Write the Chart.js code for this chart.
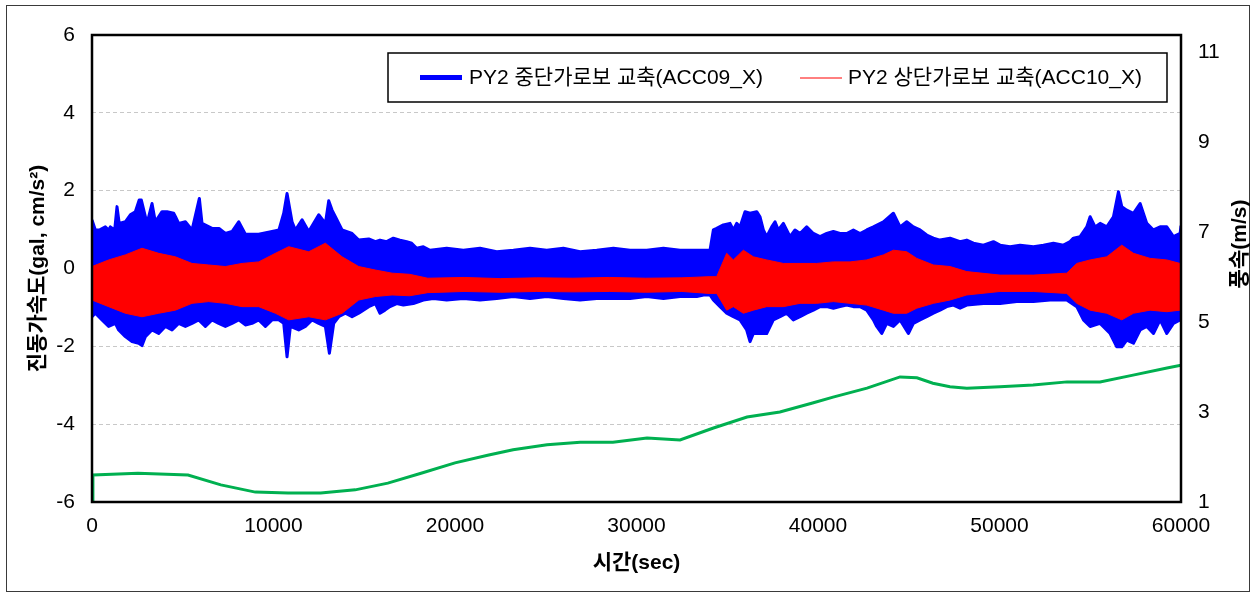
<!DOCTYPE html>
<html>
<head>
<meta charset="utf-8">
<script src="https://cdn.jsdelivr.net/npm/chart.js@4.4.1/dist/chart.umd.min.js"></script>
<style>
  html, body { margin: 0; padding: 0; background: #fff; }
  #wrap { position: relative; width: 1254px; height: 594px; }
</style>
</head>
<body>
<div id="wrap"><canvas id="chart" width="1254" height="594"></canvas></div>
<script>
// ACC09_X (middle girder): upper peak envelope, time (sec) and acceleration (gal)
const blueHighTime = [0,184,400,735,918,1010,1250,1378,1500,1837,2112,2388,2600,2719,3031,3307,3490,3858,4133,4500,4600,4776,5144,5511,5915,6062,6613,7000,7348,7715,8083,8450,9185,9920,10300,10563,10746,11022,11206,11573,11941,12492,12859,13043,13226,13410,13777,14329,14696,15248,15615,15868,16235,16603,16970,17338,17613,17889,18256,18624,19542,20461,21379,22298,23216,24135,25053,25972,26890,27809,28727,29646,30564,31483,32401,33320,34050,34234,34418,34785,35152,35336,35520,35703,35979,36255,36622,36806,36989,37173,37449,37632,37816,38092,38459,38734,39010,39377,39745,40112,40480,40847,41214,41582,41949,42317,42684,43051,43603,44154,44521,44888,45256,45623,45991,46358,46725,47277,47828,48195,48562,49114,49665,50032,50583,51134,51869,52420,52971,53522,53890,54073,54441,54808,54992,55267,55543,55910,56278,56553,56737,57012,57380,57747,58115,58482,58850,59217,59584,59952,60000];
const blueHigh = [1.25,0.99,0.99,1.07,0.99,1.07,0.99,1.59,1.16,1.20,1.38,1.46,1.76,1.76,1.16,1.67,1.20,1.46,1.46,1.42,1.33,1.16,1.20,0.99,1.80,1.16,1.03,1.03,0.90,0.95,1.20,0.88,0.88,0.95,0.99,1.42,1.93,1.20,0.99,1.25,0.95,1.38,1.16,1.74,1.50,1.33,0.99,0.90,0.73,0.76,0.69,0.73,0.69,0.78,0.73,0.69,0.65,0.52,0.56,0.47,0.52,0.47,0.52,0.43,0.47,0.52,0.47,0.52,0.43,0.47,0.52,0.47,0.47,0.52,0.47,0.47,0.47,0.99,1.03,1.12,1.16,0.99,1.16,1.07,1.46,1.42,1.46,1.33,0.99,0.82,1.07,1.20,0.99,1.16,0.82,0.99,0.90,1.07,0.90,0.82,0.90,0.95,0.90,0.90,0.99,0.90,0.99,1.07,1.20,1.42,1.07,1.20,1.07,0.99,0.86,0.78,0.73,0.78,0.69,0.73,0.65,0.60,0.69,0.60,0.56,0.60,0.56,0.60,0.65,0.60,0.69,0.78,0.82,1.07,1.33,1.07,1.16,1.07,1.33,1.97,1.59,1.50,1.42,1.67,1.16,0.99,1.07,1.07,0.82,0.90,1.10];

// ACC09_X (middle girder): lower peak envelope
const blueLowTime = [0,184,551,918,1286,1470,1837,2204,2572,2756,2939,3307,3674,4041,4409,4776,5144,5511,5878,6246,6613,6981,7348,7715,8083,8450,8818,9185,9553,9920,10287,10563,10746,10930,11389,11757,12124,12492,12859,13080,13318,13594,13961,14329,14696,15248,15615,15868,16143,16419,16787,17154,17705,18256,18807,19542,20461,21379,22298,23216,24135,25053,25972,26890,27809,28727,29646,30564,31483,32401,33320,33700,34050,34234,34602,34969,35336,35703,36071,36255,36438,36806,37173,37540,37908,38275,38642,39010,39377,39745,40112,40480,40847,41214,41582,41949,42317,42684,43051,43235,43511,43786,44154,44521,44980,45256,45623,45991,46358,46725,47093,47460,47828,48195,49114,50032,50951,51869,52788,53706,54257,54625,54992,55543,56094,56461,56737,57012,57380,57747,58115,58482,58850,59217,59584,59952,60000];
const blueLow = [-1.24,-1.15,-1.32,-1.49,-1.41,-1.58,-1.75,-1.88,-1.92,-1.98,-1.75,-1.58,-1.67,-1.49,-1.58,-1.41,-1.49,-1.41,-1.32,-1.49,-1.32,-1.41,-1.49,-1.41,-1.32,-1.45,-1.41,-1.32,-1.49,-1.32,-1.32,-1.41,-2.27,-1.49,-1.58,-1.49,-1.32,-1.41,-1.49,-2.18,-1.41,-1.24,-1.15,-1.24,-1.15,-0.98,-0.90,-1.15,-1.07,-0.98,-0.90,-0.94,-0.90,-0.81,-0.77,-0.81,-0.77,-0.81,-0.77,-0.72,-0.77,-0.72,-0.77,-0.81,-0.77,-0.77,-0.77,-0.72,-0.77,-0.72,-0.72,-0.68,-0.68,-0.81,-0.98,-1.15,-1.24,-1.32,-1.58,-1.88,-1.67,-1.67,-1.67,-1.32,-1.24,-1.15,-1.32,-1.24,-1.15,-1.07,-0.98,-0.98,-1.02,-0.98,-0.94,-0.98,-0.98,-1.07,-1.32,-1.49,-1.67,-1.41,-1.49,-1.32,-1.67,-1.41,-1.32,-1.24,-1.15,-1.07,-0.98,-0.94,-1.02,-0.94,-0.90,-0.90,-0.85,-0.85,-0.81,-0.81,-0.98,-1.32,-1.49,-1.41,-1.67,-2.01,-2.01,-1.84,-1.92,-1.58,-1.49,-1.67,-1.32,-1.67,-1.41,-1.32,-1.32];

// ACC10_X (upper girder): envelope, time (sec), upper and lower peaks (gal)
const redTime = [0,918,1837,2756,3674,4593,5511,6430,7348,8267,9185,10104,10838,11941,12859,13778,14696,15615,16533,17500,18500,20500,22500,24500,26500,28500,30500,32500,34000,34418,34969,35336,35887,36438,37173,38092,39010,39929,40847,41766,42684,43603,44154,44888,45440,46358,47277,48195,50032,51869,53706,54257,54992,55910,56737,57380,58298,59217,59952,60000];
const redHigh = [0.05,0.22,0.35,0.52,0.39,0.30,0.13,0.09,0.05,0.13,0.17,0.39,0.56,0.43,0.65,0.30,0.05,-0.04,-0.12,-0.15,-0.25,-0.23,-0.26,-0.24,-0.25,-0.23,-0.25,-0.24,-0.21,-0.21,0.39,0.22,0.47,0.30,0.22,0.13,0.13,0.13,0.17,0.17,0.22,0.35,0.47,0.43,0.26,0.09,0.05,-0.08,-0.17,-0.17,-0.12,0.13,0.22,0.30,0.60,0.39,0.26,0.22,0.13,0.13];
const redLow = [-0.81,-0.98,-1.15,-1.24,-1.15,-1.07,-0.895,-0.85,-0.895,-0.98,-0.98,-1.15,-1.32,-1.24,-1.32,-1.15,-0.81,-0.72,-0.68,-0.70,-0.62,-0.59,-0.61,-0.59,-0.60,-0.59,-0.61,-0.59,-0.64,-0.64,-1.07,-0.98,-1.15,-1.07,-0.98,-0.98,-0.895,-0.895,-0.85,-0.895,-0.94,-1.07,-1.15,-1.15,-1.02,-0.895,-0.81,-0.68,-0.59,-0.59,-0.64,-0.895,-1.07,-1.15,-1.32,-1.15,-1.07,-1.11,-1.07,-1.07];

// wind speed (m/s) on the right axis
const windTime = [0,50,2530,5290,7100,9000,10800,12600,14500,16300,18130,20000,21800,23200,25070,26900,28700,30580,32400,34200,36090,37900,39700,40830,42700,44520,45450,46330,47270,48200,50030,51850,53720,55540,57360,59230,60000];
const windSpeed = [1.0,1.6,1.64,1.6,1.38,1.22,1.2,1.2,1.27,1.42,1.64,1.87,2.04,2.16,2.27,2.33,2.33,2.42,2.38,2.64,2.89,3.0,3.2,3.33,3.53,3.78,3.76,3.64,3.56,3.53,3.56,3.6,3.67,3.67,3.82,3.98,4.04];

// tick labels
const xTicks = [0,10000,20000,30000,40000,50000,60000];
const accTicks = [-6,-4,-2,0,2,4,6];
const windTicks = [1,3,5,7,9,11];

const seriesNames = ['PY2 중단가로보 교축(ACC09_X)', 'PY2 상단가로보 교축(ACC10_X)'];
const axisTitles = { x: '시간(sec)', acc: '진동가속도(gal, cm/s²)', wind: '풍속(m/s)' };

const FONT = "'Liberation Sans','Noto Sans CJK KR',sans-serif";
const BLUE = '#0000ff', RED = '#ff0000', GREEN = '#00b050';

const pts = (xs, ys) => xs.map((x, i) => ({ x, y: ys[i] }));

const decor = {
  id: 'decor',
  beforeDraw(chart) {
    const ctx = chart.ctx;
    ctx.save();
    ctx.fillStyle = '#fff';
    ctx.fillRect(0, 0, chart.width, chart.height);
    ctx.strokeStyle = '#3a3a3a';
    ctx.lineWidth = 1;
    ctx.strokeRect(6.5, 5.5, 1243, 586);
    ctx.restore();
  },
  afterDraw(chart) {
    const ctx = chart.ctx, a = chart.chartArea;
    ctx.save();
    // plot frame
    ctx.strokeStyle = '#000';
    ctx.lineWidth = 2.5;
    ctx.strokeRect(a.left, a.top, a.right - a.left, a.bottom - a.top);

    // axis titles
    ctx.fillStyle = '#000';
    ctx.textAlign = 'center';
    ctx.textBaseline = 'middle';
    ctx.font = 'bold 21px ' + FONT;
    ctx.fillText(axisTitles.x, (a.left + a.right) / 2, 563);
    ctx.save();
    ctx.translate(38, (a.top + a.bottom) / 2);
    ctx.rotate(-Math.PI / 2);
    ctx.fillText(axisTitles.acc, 0, 0);
    ctx.restore();
    ctx.save();
    ctx.translate(1240, 244);
    ctx.rotate(-Math.PI / 2);
    ctx.fillText(axisTitles.wind, 0, 0);
    ctx.restore();

    // legend box
    const bx = 388, by = 53, bw = 779, bh = 49, cy = by + bh / 2;
    ctx.fillStyle = '#fff';
    ctx.fillRect(bx, by, bw, bh);
    ctx.strokeStyle = '#000';
    ctx.lineWidth = 1.5;
    ctx.strokeRect(bx, by, bw, bh);
    ctx.lineCap = 'butt';
    ctx.strokeStyle = BLUE; ctx.lineWidth = 5;
    ctx.beginPath(); ctx.moveTo(420, cy); ctx.lineTo(462, cy); ctx.stroke();
    ctx.strokeStyle = RED; ctx.lineWidth = 1;
    ctx.beginPath(); ctx.moveTo(800, cy + 0.5); ctx.lineTo(842, cy + 0.5); ctx.stroke();
    ctx.fillStyle = '#000';
    ctx.textAlign = 'left';
    ctx.font = '21px ' + FONT;
    ctx.fillText(seriesNames[0], 469, cy + 1);
    ctx.fillText(seriesNames[1], 848, cy + 1);
    ctx.restore();
  }
};

const tickFont = { family: FONT, size: 21 };

new Chart(document.getElementById('chart'), {
  type: 'line',
  data: {
    datasets: [
      { label: 'windSpeed', data: pts(windTime, windSpeed), yAxisID: 'y1', borderColor: GREEN, borderWidth: 3, pointRadius: 0, fill: false, order: 0 },
      { label: seriesNames[1] + ' +', data: pts(redTime, redHigh), yAxisID: 'y', borderColor: RED, borderWidth: 1, pointRadius: 0, fill: false, order: 1 },
      { label: seriesNames[1] + ' -', data: pts(redTime, redLow), yAxisID: 'y', borderColor: RED, backgroundColor: RED, borderWidth: 1, pointRadius: 0, fill: { target: 1 }, order: 1 },
      { label: seriesNames[0] + ' +', data: pts(blueHighTime, blueHigh), yAxisID: 'y', borderColor: BLUE, borderWidth: 3, borderJoinStyle: 'round', pointRadius: 0, fill: false, order: 2 },
      { label: seriesNames[0] + ' -', data: pts(blueLowTime, blueLow), yAxisID: 'y', borderColor: BLUE, backgroundColor: BLUE, borderWidth: 3, borderJoinStyle: 'round', pointRadius: 0, fill: { target: 3 }, order: 2 }
    ]
  },
  options: {
    responsive: false,
    animation: false,
    devicePixelRatio: 1,
    layout: { padding: { top: 35, left: 0, right: 0, bottom: 0 } },
    plugins: { legend: { display: false }, tooltip: { enabled: false } },
    scales: {
      x: {
        type: 'linear', min: 0, max: 60000, position: 'bottom',
        grid: { display: false, drawTicks: false },
        border: { display: false },
        afterBuildTicks: s => { s.ticks = xTicks.map(v => ({ value: v })); },
        afterFit: s => { s.height = 92; },
        ticks: { color: '#000', font: tickFont, padding: 12, maxRotation: 0, callback: v => String(v) }
      },
      y: {
        type: 'linear', min: -6, max: 6, position: 'left',
        grid: {
          drawTicks: false,
          color: ctx => (Math.abs(ctx.tick.value) === 6 ? 'rgba(0,0,0,0)' : '#c8c8c8'),
          lineWidth: 1
        },
        border: { display: false, dash: [4, 3] },
        afterBuildTicks: s => { s.ticks = accTicks.map(v => ({ value: v })); },
        afterFit: s => { s.width = 92; },
        ticks: { color: '#000', font: tickFont, padding: 17, callback: v => String(v) }
      },
      y1: {
        type: 'linear', min: 1, max: 11.38, position: 'right',
        grid: { display: false, drawTicks: false },
        border: { display: false },
        afterBuildTicks: s => { s.ticks = windTicks.map(v => ({ value: v })); },
        afterFit: s => { s.width = 73; },
        ticks: { color: '#000', font: tickFont, padding: 17, callback: v => String(v) }
      }
    }
  },
  plugins: [decor]
});
</script>
</body>
</html>
